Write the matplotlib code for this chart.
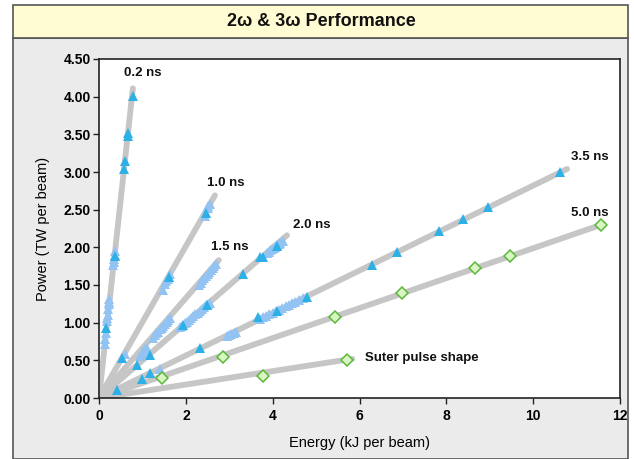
import matplotlib
matplotlib.use("Agg")
import matplotlib.pyplot as plt
from matplotlib.patches import Rectangle

plt.rcParams['font.family'] = ['Liberation Sans', 'DejaVu Sans']

# pulse lines: end points (kJ, TW), all start at the origin
pulse_names = ["0.2 ns", "1.0 ns", "1.5 ns", "2.0 ns", "3.5 ns", "5.0 ns", "Suter pulse shape"]
line_end_x = [0.78, 2.67, 2.76, 4.33, 10.78, 11.62, 5.83]
line_end_y = [4.11, 2.69, 1.83, 2.16, 3.04, 2.31, 0.52]
label_x = [1.01, 2.93, 3.02, 4.90, 11.31, 11.31, 6.13]
label_y = [4.31, 2.86, 2.00, 2.29, 3.20, 2.45, 0.53]

# cyan triangles
cyan_x = [0.78, 0.67, 0.66, 0.60, 0.58, 0.36, 0.17,
          2.46, 1.62, 0.53,
          4.10, 3.78, 3.71, 3.32, 2.49, 1.94, 1.18, 0.87,
          10.62, 8.96, 8.39, 7.83, 6.87, 6.29, 4.79, 4.10, 3.66, 2.33, 1.18, 0.99, 0.41]
cyan_y = [4.01, 3.52, 3.48, 3.15, 3.04, 1.89, 0.93,
          2.45, 1.60, 0.53,
          2.02, 1.87, 1.87, 1.65, 1.23, 0.97, 0.57, 0.44,
          3.00, 2.54, 2.38, 2.22, 1.94, 1.76, 1.34, 1.16, 1.07, 0.66, 0.33, 0.25, 0.11]

# light blue triangles (dense clusters)
light_x = [0.37, 0.36, 0.35, 0.34, 0.33, 0.24, 0.23, 0.22, 0.21, 0.20, 0.19, 0.18, 0.15, 0.14, 0.13,
           2.55, 2.52, 2.50, 2.47, 2.44, 1.64, 1.61, 1.58, 1.55, 1.52, 1.47, 0.60,
           2.30, 2.34, 2.38, 2.42, 2.46, 2.50, 2.54, 2.58, 2.62, 2.66, 2.70,
           1.25, 1.29, 1.32, 1.36, 1.40, 1.44, 1.48, 1.52, 1.56, 1.60, 1.64, 1.10, 1.06, 1.02, 0.98, 0.95,
           3.87, 3.91, 3.95, 3.99, 4.02, 4.06, 4.10, 4.14, 4.18, 4.24,
           1.87, 1.92, 1.97, 2.02, 2.07, 2.12, 2.17, 2.22, 2.27, 2.32, 2.37, 2.42, 2.47, 2.52, 2.56,
           3.70, 3.78, 3.85, 3.92, 4.00, 4.08, 4.15, 4.22, 4.30, 4.38, 4.45, 4.52, 4.60, 4.70,
           2.95, 3.00, 3.05, 3.10, 3.15, 1.40]
light_y = [1.95, 1.90, 1.85, 1.80, 1.76, 1.32, 1.28, 1.25, 1.18, 1.10, 1.06, 1.02, 0.86, 0.78, 0.72,
           2.58, 2.55, 2.52, 2.46, 2.42, 1.65, 1.61, 1.58, 1.55, 1.51, 1.43, 0.58,
           1.50, 1.53, 1.56, 1.59, 1.62, 1.65, 1.67, 1.70, 1.72, 1.75, 1.78,
           0.80, 0.83, 0.86, 0.88, 0.91, 0.93, 0.96, 0.98, 1.01, 1.04, 1.06, 0.67, 0.65, 0.62, 0.59, 0.56,
           1.92, 1.94, 1.96, 1.98, 1.99, 2.01, 2.03, 2.05, 2.06, 2.09,
           0.94, 0.96, 0.99, 1.01, 1.04, 1.06, 1.09, 1.11, 1.13, 1.16, 1.18, 1.21, 1.23, 1.25, 1.26,
           1.05, 1.07, 1.09, 1.11, 1.13, 1.15, 1.17, 1.19, 1.22, 1.24, 1.26, 1.28, 1.30, 1.33,
           0.82, 0.83, 0.85, 0.86, 0.88, 0.39]

# green diamonds
d5_x = [1.45, 2.86, 5.44, 6.98, 8.66, 9.47, 11.57]
d5_y = [0.26, 0.55, 1.07, 1.39, 1.72, 1.88, 2.30]
suter_x = [3.78, 5.71]
suter_y = [0.29, 0.50]

fig = plt.figure(figsize=(6.34, 4.59), dpi=100)
fig.patch.set_facecolor("white")
fig.patches.append(Rectangle((13/634, 0), 615/634, 1 - 38/459, transform=fig.transFigure,
                             facecolor="#ebebeb", edgecolor="#555555", lw=1.2, zorder=0))
fig.patches.append(Rectangle((13/634, 1 - 38/459), 615/634, 33/459, transform=fig.transFigure,
                             facecolor="#fffbd2", edgecolor="#555555", lw=1.2, zorder=0))
fig.text(321/634, 1 - 21/459, "2ω & 3ω Performance", ha="center", va="center",
         fontsize=13, fontweight="bold", color="#111111")

ax = fig.add_axes([99/634, 1 - 398/459, 521/634, 339/459])
ax.set_zorder(5)
ax.set_facecolor("white")

for ex, ey in zip(line_end_x, line_end_y):
    ax.plot([0, ex], [0, ey], color="#c6c6c6", lw=4.2, solid_capstyle="round", zorder=1)

ax.plot(light_x, light_y, "^", color="#92c3f2", ms=7, mew=0, zorder=2)
ax.plot(cyan_x, cyan_y, "^", color="#2db0e6", ms=7, mew=0, zorder=3)
ax.plot(d5_x, d5_y, "D", mfc="#d9f5c4", mec="#5cb83a", ms=6, mew=1.1, zorder=3)
ax.plot(suter_x, suter_y, "D", mfc="#d9f5c4", mec="#5cb83a", ms=6, mew=1.1, zorder=3)

for name, lx, ly in zip(pulse_names, label_x, label_y):
    ha = "left" if name.startswith("Suter") else "center"
    ax.text(lx, ly, name, ha=ha, va="center", fontsize=9.5, fontweight="bold", color="#111111")

ax.set_xlim(0, 12)
ax.set_ylim(0, 4.5)
ax.set_xticks(range(0, 13, 2))
ax.set_yticks([i * 0.5 for i in range(10)])
ax.set_yticklabels(["%.2f" % (i * 0.5) for i in range(10)])
for lab in ax.get_xticklabels() + ax.get_yticklabels():
    lab.set_fontweight("bold")
ax.tick_params(direction="out", length=4, width=1, labelsize=10, color="#222222", pad=2)
ax.tick_params(axis="x", pad=4)
for s in ax.spines.values():
    s.set_color("#222222")
    s.set_linewidth(1.2)

ax.set_xlabel("Energy (kJ per beam)", fontsize=10.5, labelpad=9)
ax.set_ylabel("Power (TW per beam)", fontsize=10.5, labelpad=10)

fig.savefig("out.png", dpi=100)
